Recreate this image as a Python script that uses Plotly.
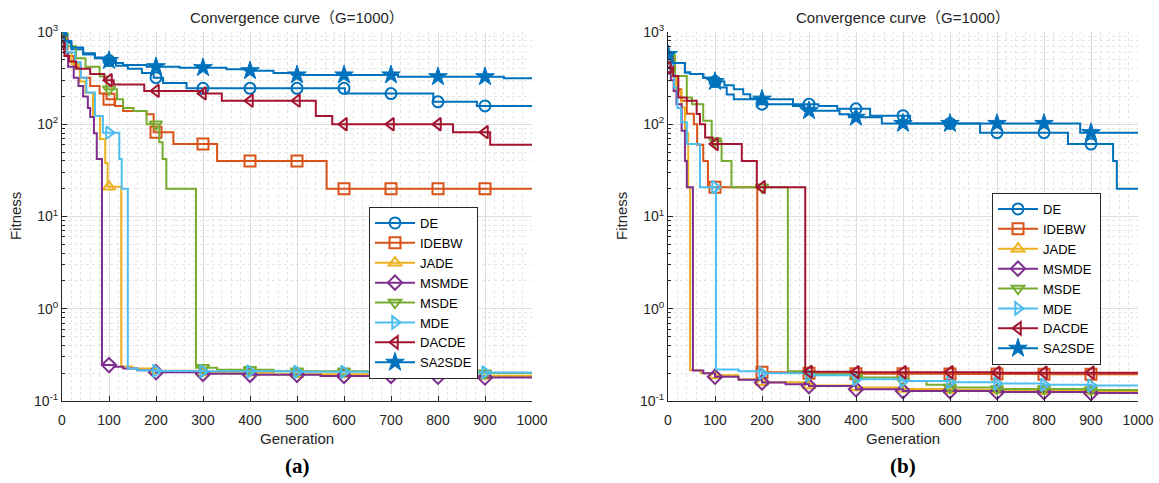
import numpy as np
import plotly.graph_objects as go

# ---------------- data ----------------
SERIES = ["DE", "IDEBW", "JADE", "MSMDE", "MSDE", "MDE", "DACDE", "SA2SDE"]
COLORS = ["#0072BD", "#D95319", "#EDB120", "#7E2F8E", "#77AC30", "#4DBEEE", "#A2142F", "#0072BD"]
SYMBOLS = ["circle-open", "square-open", "triangle-up-open", "diamond-open",
           "triangle-down-open", "triangle-right-open", "triangle-left-open", "star"]
MARKER_GENS = [0, 100, 200, 300, 400, 500, 600, 700, 800, 900]
X_MAX = 1000

# panel (a): generation at which the best fitness changes, and the new value
a_DE_gen = [0, 5, 20, 45, 70, 90, 115, 140, 170, 195, 215, 265, 602, 790, 883]
a_DE_val = [900, 760, 650, 570, 520, 490, 430, 400, 360, 320, 280, 245, 215, 175, 158]
a_IDEBW_gen = [0, 10, 25, 40, 60, 80, 95, 113, 130, 180, 195, 237, 330, 563]
a_IDEBW_val = [750, 550, 420, 320, 260, 215, 187, 158, 139, 128, 82, 61, 40, 20]
a_JADE_gen = [0, 8, 20, 38, 50, 66, 81, 92, 97, 126, 150, 200, 300, 450, 650, 850]
a_JADE_val = [850, 600, 450, 290, 220, 123, 69, 38, 21, 0.236, 0.225, 0.213, 0.203, 0.195, 0.19, 0.187]
a_MSMDE_gen = [0, 5, 13, 25, 35, 45, 55, 60, 68, 74, 85, 110, 130, 160, 200, 300, 400, 550, 750, 900]
a_MSMDE_val = [800, 600, 420, 320, 260, 200, 150, 120, 80, 42, 0.245, 0.235, 0.225, 0.215, 0.205,
               0.197, 0.192, 0.187, 0.183, 0.18]
a_MSDE_gen = [0, 10, 30, 50, 80, 95, 117, 130, 152, 180, 207, 214, 222, 285, 330, 450, 650, 850]
a_MSDE_val = [900, 700, 520, 420, 330, 240, 187, 150, 139, 100, 64, 42, 20, 0.23, 0.218, 0.21, 0.205, 0.2]
a_MDE_gen = [0, 10, 28, 40, 52, 70, 87, 122, 127, 140, 160, 200, 300, 500, 800]
a_MDE_val = [750, 600, 470, 320, 221, 123, 81, 42, 20, 0.225, 0.215, 0.212, 0.21, 0.207, 0.204]
a_DACDE_gen = [0, 5, 15, 30, 60, 90, 110, 175, 300, 340, 540, 575, 832, 911]
a_DACDE_val = [780, 550, 480, 400, 350, 300, 270, 230, 216, 180, 123, 100, 82, 60]
a_SA2SDE_gen = [0, 5, 20, 45, 70, 90, 110, 130, 180, 250, 350, 400, 450, 500, 715, 940]
a_SA2SDE_val = [1100, 800, 680, 590, 530, 490, 460, 440, 420, 410, 395, 380, 360, 342, 327, 315]

# panel (b)
b_DE_gen = [0, 9, 36, 47, 75, 95, 120, 140, 160, 175, 190, 320, 360, 430, 515, 664, 851, 947, 955]
b_DE_val = [530, 460, 365, 350, 320, 290, 265, 240, 212, 190, 165, 158, 147, 124, 102, 81, 61, 40, 20]
b_IDEBW_gen = [0, 8, 18, 28, 40, 55, 62, 75, 85, 190, 200, 300, 400, 600, 800]
b_IDEBW_val = [480, 330, 240, 180, 130, 100, 60, 40, 20.8, 0.22, 0.205, 0.2, 0.198, 0.196, 0.195]
b_JADE_gen = [0, 8, 18, 29, 36, 43, 47, 70, 100, 150, 200, 300, 400, 500, 600, 800, 950]
b_JADE_val = [480, 330, 230, 152, 80, 20.8, 0.216, 0.2, 0.19, 0.172, 0.16, 0.147, 0.14, 0.135,
              0.132, 0.128, 0.126]
b_MSMDE_gen = [0, 6, 12, 18, 29, 36, 40, 53, 75, 100, 150, 200, 250, 300, 400, 500, 700, 900]
b_MSMDE_val = [420, 300, 230, 165, 85, 40, 20.8, 0.214, 0.2, 0.183, 0.17, 0.159, 0.152, 0.145,
               0.134, 0.128, 0.125, 0.122]
b_MSDE_gen = [0, 15, 40, 51, 75, 93, 114, 135, 255, 300, 400, 500, 550, 600, 700, 900]
b_MSDE_val = [560, 334, 195, 165, 109, 66, 40, 20.8, 0.21, 0.195, 0.18, 0.165, 0.15, 0.14, 0.135, 0.132]
b_MDE_gen = [0, 5, 13, 20, 28, 40, 68, 102, 150, 200, 300, 400, 500, 600, 700, 800, 900]
b_MDE_val = [450, 350, 250, 150, 105, 61, 20.8, 0.22, 0.21, 0.2, 0.19, 0.172, 0.165, 0.16, 0.155,
             0.15, 0.147]
b_DACDE_gen = [0, 11, 22, 40, 61, 68, 79, 95, 157, 189, 292, 400, 700]
b_DACDE_val = [411, 334, 195, 180, 129, 100, 72, 61, 40, 20.8, 0.207, 0.205, 0.203]
b_SA2SDE_gen = [0, 9, 36, 47, 75, 95, 110, 125, 140, 266, 290, 365, 385, 455, 877]
b_SA2SDE_val = [570, 460, 365, 350, 320, 290, 250, 210, 187, 158, 140, 128, 119, 102, 81]

PANEL_A = [(a_DE_gen, a_DE_val), (a_IDEBW_gen, a_IDEBW_val), (a_JADE_gen, a_JADE_val),
           (a_MSMDE_gen, a_MSMDE_val), (a_MSDE_gen, a_MSDE_val), (a_MDE_gen, a_MDE_val),
           (a_DACDE_gen, a_DACDE_val), (a_SA2SDE_gen, a_SA2SDE_val)]
PANEL_B = [(b_DE_gen, b_DE_val), (b_IDEBW_gen, b_IDEBW_val), (b_JADE_gen, b_JADE_val),
           (b_MSMDE_gen, b_MSMDE_val), (b_MSDE_gen, b_MSDE_val), (b_MDE_gen, b_MDE_val),
           (b_DACDE_gen, b_DACDE_val), (b_SA2SDE_gen, b_SA2SDE_val)]

X_TICKS = [0, 100, 200, 300, 400, 500, 600, 700, 800, 900, 1000]
Y_TICKS = [0.1, 1, 10, 100, 1000]
Y_TICKTEXT = ["10<sup>-1</sup>", "10<sup>0</sup>", "10<sup>1</sup>", "10<sup>2</sup>", "10<sup>3</sup>"]
TITLE = "Convergence curve（G=1000）"
CAPTIONS = ["(a)", "(b)"]

# ---------------- figure ----------------
W, H = 1159, 483
fig = go.Figure()

def step_value(gens, vals, x):
    i = int(np.searchsorted(gens, x, side="right")) - 1
    return vals[i]

TXT = "#262626"
FONT = "Liberation Sans, Arial, Noto Sans CJK SC"
panels = [PANEL_A, PANEL_B]
axes = [("x", "y"), ("x2", "y2")]
legends = ["legend", "legend2"]

def marker_style(k):
    if SYMBOLS[k] == "star":
        return dict(symbol="star", size=14, color=COLORS[k], line=dict(width=1, color=COLORS[k]))
    return dict(symbol=SYMBOLS[k], size=11, color=COLORS[k], line=dict(width=2, color=COLORS[k]))

for p, data in enumerate(panels):
    xa, ya = axes[p]
    for k, (g, v) in enumerate(data):
        xs = list(g) + [X_MAX]
        ys = list(v) + [v[-1]]
        fig.add_trace(go.Scatter(x=xs, y=ys, mode="lines", line=dict(color=COLORS[k], width=2, shape="hv"),
                                 xaxis=xa, yaxis=ya, showlegend=False, hoverinfo="skip"))
        my = [step_value(g, v, m) for m in MARKER_GENS]
        fig.add_trace(go.Scatter(x=MARKER_GENS, y=my, mode="markers", marker=marker_style(k),
                                 xaxis=xa, yaxis=ya, showlegend=False))
        fig.add_trace(go.Scatter(x=[None], y=[None], mode="lines+markers", name=SERIES[k],
                                 line=dict(color=COLORS[k], width=2), marker=marker_style(k),
                                 xaxis=xa, yaxis=ya, legend=legends[p], showlegend=True))

# plot areas in pixels
PX = [(62, 532), (668, 1138)]
PY = (32, 401)
minor_y = [m * 10.0 ** e for e in range(-1, 3) for m in range(2, 10)]

def xdom(i):
    return [PX[i][0] / W, PX[i][1] / W]

ydom = [1 - PY[1] / H, 1 - PY[0] / H]

common_x = dict(range=[0, 1000], tickmode="array", tickvals=X_TICKS, showgrid=True, gridcolor="#dedede",
                gridwidth=1, showline=True, linecolor=TXT, linewidth=1, ticks="inside", ticklen=5,
                tickcolor=TXT, tickfont=dict(family=FONT, size=14, color=TXT), zeroline=False,
                ticklabelstandoff=6,
                minor=dict(dtick=20, tick0=0, showgrid=True, gridcolor="#e6e6e6", griddash="dot", ticks=""))
common_y = dict(type="log", range=[-1, 3], tickmode="array", tickvals=Y_TICKS, ticktext=Y_TICKTEXT,
                showgrid=True, gridcolor="#dedede", showline=True, linecolor=TXT, linewidth=1,
                ticks="inside", ticklen=5, tickcolor=TXT, tickfont=dict(family=FONT, size=14, color=TXT),
                zeroline=False,
                minor=dict(tickmode="array", tickvals=minor_y, showgrid=True, gridcolor="#e6e6e6",
                           griddash="dot", ticks="inside", ticklen=3, tickcolor=TXT))

fig.update_layout(
    width=W, height=H, margin=dict(l=0, r=0, t=0, b=0, autoexpand=False),
    paper_bgcolor="white", plot_bgcolor="white",
    xaxis=dict(domain=xdom(0), anchor="y", **common_x),
    yaxis=dict(domain=ydom, anchor="x", **common_y),
    xaxis2=dict(domain=xdom(1), anchor="y2", **common_x),
    yaxis2=dict(domain=ydom, anchor="x2", **common_y),
    legend=dict(x=369 / W, y=1 - 207 / H, xanchor="left", yanchor="top", bgcolor="white",
                bordercolor=TXT, borderwidth=1, font=dict(family=FONT, size=13, color="#000000"),
                tracegroupgap=0, itemwidth=40),
    legend2=dict(x=992 / W, y=1 - 193 / H, xanchor="left", yanchor="top", bgcolor="white",
                 bordercolor=TXT, borderwidth=1, font=dict(family=FONT, size=13, color="#000000"),
                 tracegroupgap=0, itemwidth=40),
    showlegend=True,
)

ann = []
for i in range(2):
    cx = (PX[i][0] + PX[i][1]) / 2 / W
    ann.append(dict(x=cx, y=1 - 17 / H, xref="paper", yref="paper", text=TITLE, showarrow=False,
                    font=dict(family=FONT, size=15, color=TXT), xanchor="center", yanchor="middle"))
    ann.append(dict(x=cx, y=1 - 438 / H, xref="paper", yref="paper", text="Generation", showarrow=False,
                    font=dict(family=FONT, size=15, color=TXT), xanchor="center", yanchor="middle"))
    ann.append(dict(x=(PX[i][0] - 46) / W, y=1 - 216 / H, xref="paper", yref="paper", text="Fitness",
                    showarrow=False, textangle=-90, font=dict(family=FONT, size=15, color=TXT),
                    xanchor="center", yanchor="middle"))
    ann.append(dict(x=cx, y=1 - 466 / H, xref="paper", yref="paper", text="<b>" + CAPTIONS[i] + "</b>",
                    showarrow=False, font=dict(family="Liberation Serif, Times New Roman", size=21, color="#000"),
                    xanchor="center", yanchor="middle"))
fig.update_layout(annotations=ann)

fig.write_html("out.html")
